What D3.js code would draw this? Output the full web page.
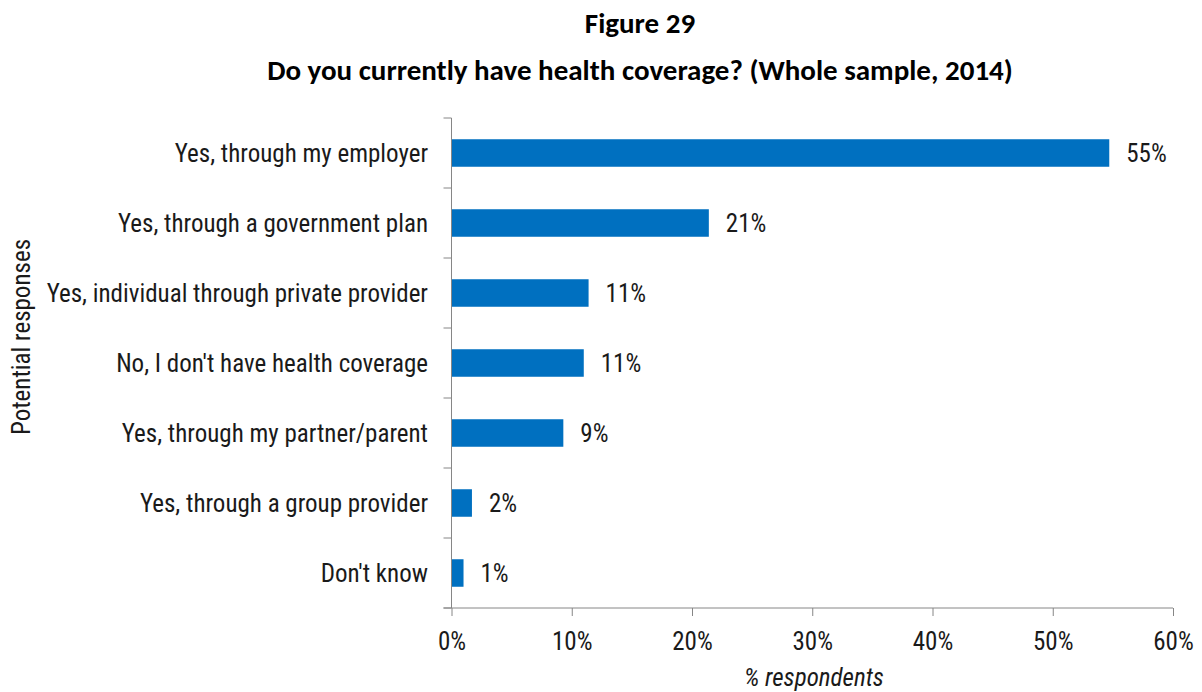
<!DOCTYPE html>
<html>
<head>
<meta charset="utf-8">
<script src="https://cdn.jsdelivr.net/npm/d3@7"></script>
<style>
  html, body { margin: 0; padding: 0; background: #fff; }
  svg { display: block; }
  .narrow { font-family: 'Liberation Sans Narrow', 'Arial Narrow', 'Roboto Condensed', sans-serif; fill: #1a1a1a; }
  .title { font-family: Carlito, Calibri, Lato, sans-serif; font-weight: bold; fill: #000; }
</style>
</head>
<body>
<svg id="chart" width="1202" height="692"></svg>
<script>
const categories = [
  "Yes, through my employer",
  "Yes, through a government plan",
  "Yes, individual through private provider",
  "No, I don't have health coverage",
  "Yes, through my partner/parent",
  "Yes, through a group provider",
  "Don't know"
];
const values = [54.7, 21.4, 11.4, 11.0, 9.3, 1.7, 1.0];
const valueLabels = ["55%", "21%", "11%", "11%", "9%", "2%", "1%"];
const xTicks = [0, 10, 20, 30, 40, 50, 60];
const title1 = "Figure 29";
const title2 = "Do you currently have health coverage? (Whole sample, 2014)";
const yTitle = "Potential responses";
const xTitle = "% respondents";

const svg = d3.select("#chart");
const pL = 451.5, pR = 1173, pT = 118, pB = 608;
const axisColor = "#868686";
const fontSize = 25;

const x = d3.scaleLinear().domain([0, 60]).range([pL, pR]);
const y = d3.scaleBand().domain(categories).range([pT, pB]).paddingInner(0.607).paddingOuter(0.3035);

// titles
svg.append("text").attr("class", "title").attr("x", 640).attr("y", 33)
  .attr("text-anchor", "middle").style("font-size", "29px").text(title1);
svg.append("text").attr("class", "title").attr("x", 640).attr("y", 80)
  .attr("text-anchor", "middle").style("font-size", "29px").text(title2);

// bars
svg.append("g").selectAll("rect").data(values).join("rect")
  .attr("x", x(0))
  .attr("y", (d, i) => y(categories[i]))
  .attr("width", d => x(d) - x(0))
  .attr("height", y.bandwidth())
  .attr("fill", "#0070C0");

// value labels
svg.append("g").selectAll("text").data(values).join("text")
  .attr("class", "narrow")
  .attr("x", d => x(d) + 17)
  .attr("y", (d, i) => y(categories[i]) + y.bandwidth() / 2)
  .attr("dy", "0.35em")
  .style("font-size", fontSize + "px")
  .text((d, i) => valueLabels[i]);

// x axis
const xAxis = svg.append("g").attr("transform", `translate(0,${pB})`)
  .call(d3.axisBottom(x).tickValues(xTicks).tickFormat(d => d + "%").tickSize(8).tickSizeOuter(0));
xAxis.select(".domain").remove();
xAxis.append("line").attr("x1", pL - 8).attr("x2", pR).attr("y1", 0).attr("y2", 0).attr("stroke", axisColor);
xAxis.selectAll(".tick line").attr("stroke", axisColor);
xAxis.selectAll(".tick text").attr("class", "narrow").attr("y", 24)
  .style("font-size", fontSize + "px").attr("fill", "#1a1a1a");

// y axis
const boundaries = d3.range(categories.length + 1).map(i => pT + i * y.step());
const yAxis = svg.append("g");
yAxis.append("line").attr("x1", pL).attr("x2", pL).attr("y1", pT).attr("y2", pB).attr("stroke", axisColor);
yAxis.selectAll("line.t").data(boundaries).join("line").attr("class", "t")
  .attr("x1", pL - 8).attr("x2", pL).attr("y1", d => d).attr("y2", d => d).attr("stroke", axisColor);
yAxis.selectAll("text").data(categories).join("text")
  .attr("class", "narrow")
  .attr("x", 428)
  .attr("y", d => y(d) + y.bandwidth() / 2)
  .attr("dy", "0.35em")
  .attr("text-anchor", "end")
  .style("font-size", fontSize + "px")
  .text(d => d);

// axis titles
svg.append("text").attr("class", "narrow")
  .attr("transform", "translate(30,337) rotate(-90)")
  .attr("text-anchor", "middle").style("font-size", fontSize + "px").text(yTitle);
svg.append("text").attr("class", "narrow")
  .attr("x", 814).attr("y", 686)
  .attr("text-anchor", "middle").style("font-size", fontSize + "px").style("font-style", "italic").text(xTitle);
</script>
</body>
</html>
